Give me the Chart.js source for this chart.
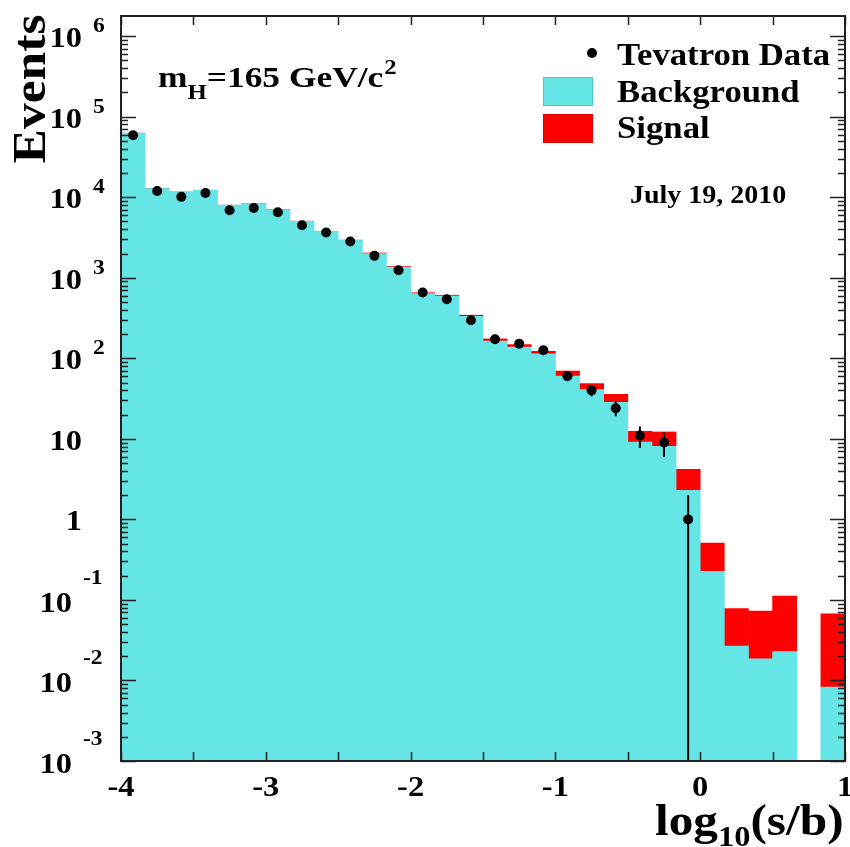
<!DOCTYPE html>
<html>
<head>
<meta charset="utf-8">
<script src="https://cdn.jsdelivr.net/npm/chart.js@4.4.0/dist/chart.umd.min.js"></script>
<style>
  html, body { margin: 0; padding: 0; background: #fff; }
  #stage { width: 850px; height: 847px; position: relative; }
</style>
</head>
<body>
<div id="stage"><canvas id="chart"></canvas></div>
<script>
// bin centres of log10(s/b), 30 bins of width 1/6 from -4 to 1
const binCenters = [-3.9167, -3.75, -3.5833, -3.4167, -3.25, -3.0833, -2.9167, -2.75, -2.5833, -2.4167,
  -2.25, -2.0833, -1.9167, -1.75, -1.5833, -1.4167, -1.25, -1.0833, -0.9167, -0.75,
  -0.5833, -0.4167, -0.25, -0.0833, 0.0833, 0.25, 0.4167, 0.5833, 0.75, 0.9167];
const background = [62400, 12800, 11600, 12200, 7960, 8360, 7030, 5030, 3700, 2920,
  2000, 1360, 637, 594, 333, 164, 138, 114, 60.3, 40.8,
  28.4, 9.12, 8.07, 2.29, 0.226, 0.0267, 0.0186, 0.0229, null, 0.00826];
const signal = [4, 5, 5, 6, 6, 7, 8, 9, 10, 12,
  30, 22, 14, 13, 10, 10, 10, 8, 9.2, 7.7,
  7.3, 3.3, 4.1, 1.89, 0.282, 0.0511, 0.054, 0.0885, null, 0.059];
const dataCounts = [58900, 11970, 10100, 11300, 6900, 7360, 6510, 4490, 3640, 2820,
  1870, 1240, 655, 541, 297, 172, 152, 126, 60, 40, 24, 11, 9, 1];
const dataErrors = [243, 109, 100, 106, 83, 86, 81, 67, 60, 53,
  43, 35, 26, 23, 17, 13, 12, 11, 7.7, 6.3, 4.9, 3.3, 3, 1];
const yExponents = [-3, -2, -1, 0, 1, 2, 3, 4, 5, 6];
const xTickMarks = [-4, -3.5, -3, -2.5, -2, -1.5, -1, -0.5, 0, 0.5, 1];
const xTickLabels = ['-4', '-3', '-2', '-1', '0', '1'];
const xLabelValues = [-4, -3, -2, -1, 0, 1];
const legendLabels = ['Tevatron Data', 'Background', 'Signal'];

const CYAN = '#65e5e5';
const RED = '#ff0000';
const SERIF = '"Liberation Serif", "Times New Roman", serif';
const STRETCH = 1.12;

function txt(ctx, str, x, y, size, align = 'left', sx = STRETCH) {
  ctx.save();
  ctx.font = `bold ${size}px ${SERIF}`;
  ctx.textAlign = 'left';
  ctx.textBaseline = 'alphabetic';
  const w = ctx.measureText(str).width * sx;
  const x0 = align === 'right' ? x - w : align === 'center' ? x - w / 2 : x;
  ctx.translate(x0, y);
  ctx.scale(sx, 1);
  ctx.fillStyle = '#000';
  ctx.fillText(str, 0, 0);
  ctx.restore();
  return w;
}

const frame = {
  id: 'frame',
  afterDatasetsDraw(chart) {
    const { ctx, chartArea: a, scales: { x, y } } = chart;
    // error bars
    ctx.save();
    ctx.strokeStyle = '#000';
    ctx.lineWidth = 2;
    dataCounts.forEach((v, i) => {
      const px = x.getPixelForValue(binCenters[i]);
      const lo = v - dataErrors[i];
      ctx.beginPath();
      ctx.moveTo(px, y.getPixelForValue(v + dataErrors[i]));
      ctx.lineTo(px, lo > y.min ? y.getPixelForValue(lo) : a.bottom);
      ctx.stroke();
    });
    ctx.restore();

    ctx.save();
    ctx.strokeStyle = '#222';
    ctx.lineWidth = 1.5;
    // y ticks, both sides
    yExponents.forEach((e) => {
      for (let m = 1; m <= 9; m++) {
        const v = m * Math.pow(10, e);
        if (v > y.max) continue;
        const py = Math.round(y.getPixelForValue(v)) + 0.5;
        const len = m === 1 ? 15 : 7;
        ctx.beginPath();
        ctx.moveTo(a.left, py); ctx.lineTo(a.left + len, py);
        ctx.moveTo(a.right, py); ctx.lineTo(a.right - len, py);
        ctx.stroke();
      }
    });
    // x ticks, top and bottom
    xTickMarks.forEach((v) => {
      const px = Math.round(x.getPixelForValue(v)) + 0.5;
      ctx.beginPath();
      ctx.moveTo(px, a.bottom); ctx.lineTo(px, a.bottom - 9);
      ctx.moveTo(px, a.top); ctx.lineTo(px, a.top + 9);
      ctx.stroke();
    });
    ctx.lineWidth = 2;
    ctx.strokeRect(a.left, a.top, a.right - a.left, a.bottom - a.top);
    ctx.restore();

    // y tick labels
    yExponents.forEach((e) => {
      const py = y.getPixelForValue(Math.pow(10, e));
      if (e === 0) {
        txt(ctx, '1', 82, py + 11, 29, 'right');
        return;
      }
      if (e === 1) {
        txt(ctx, '10', 82, py + 11, 29, 'right');
        return;
      }
      if (e > 0) {
        txt(ctx, '10', 82, py + 11, 29, 'right');
        txt(ctx, String(e), 93, py - 4, 21);
      } else {
        txt(ctx, '10', 72, py + 12, 29, 'right');
        txt(ctx, String(e), 83, py - 16, 21);
      }
    });
    // x tick labels
    xTickLabels.forEach((label, i) => {
      txt(ctx, label, x.getPixelForValue(xLabelValues[i]), 796, 29, 'center');
    });

    // axis titles
    ctx.save();
    ctx.translate(45, 89);
    ctx.rotate(-Math.PI / 2);
    txt(ctx, 'Events', 0, 0, 46, 'center');
    ctx.restore();
    let cx = 655;
    cx += txt(ctx, 'log', cx, 835, 44);
    cx += txt(ctx, '10', cx, 846, 29);
    txt(ctx, '(s/b)', cx, 835, 44);

    // mass label
    cx = 158;
    cx += txt(ctx, 'm', cx, 87, 30, 'left', 1.18);
    cx += txt(ctx, 'H', cx, 99, 21, 'left', 1.18);
    cx += txt(ctx, '=165 GeV/c', cx, 87, 30, 'left', 1.18);
    txt(ctx, '2', cx + 1, 74, 21, 'left', 1.18);

    // legend
    ctx.save();
    ctx.fillStyle = '#000';
    ctx.beginPath();
    ctx.arc(592, 53, 5, 0, Math.PI * 2);
    ctx.fill();
    ctx.fillStyle = CYAN;
    ctx.strokeStyle = '#4cc';
    ctx.lineWidth = 1;
    ctx.fillRect(543, 77, 50, 29);
    ctx.strokeRect(543.5, 77.5, 49, 28);
    ctx.fillStyle = RED;
    ctx.strokeStyle = '#d00';
    ctx.fillRect(543, 114, 50, 29);
    ctx.strokeRect(543.5, 114.5, 49, 28);
    ctx.restore();
    txt(ctx, legendLabels[0], 617, 65, 31);
    txt(ctx, legendLabels[1], 617, 102, 31);
    txt(ctx, legendLabels[2], 617, 138, 31);
    txt(ctx, 'July 19, 2010', 630, 203, 25);
  },
};

const pts = (arr) => arr.map((v, i) => ({ x: binCenters[i], y: v }));

new Chart(document.getElementById('chart'), {
  type: 'bar',
  data: {
    datasets: [
      { type: 'scatter', label: legendLabels[0], data: pts(dataCounts), stack: 'obs', order: 0,
        pointRadius: 5, pointBackgroundColor: '#000', pointBorderWidth: 0, showLine: false },
      { label: legendLabels[1], data: pts(background), stack: 'mc', order: 1,
        backgroundColor: CYAN, borderWidth: 0, barPercentage: 1, categoryPercentage: 1 },
      { label: legendLabels[2], data: pts(signal), stack: 'mc', order: 1,
        backgroundColor: RED, borderWidth: 0, barPercentage: 1, categoryPercentage: 1 },
    ],
  },
  options: {
    responsive: true,
    maintainAspectRatio: false,
    animation: false,
    events: [],
    layout: { padding: { left: 121, right: 5, top: 16, bottom: 86 } },
    plugins: { legend: { display: false }, tooltip: { enabled: false } },
    scales: {
      x: { type: 'linear', min: -4, max: 1, offset: false, display: false, stacked: true },
      y: { type: 'logarithmic', min: 1e-3, max: Math.pow(10, 6.25), display: false, stacked: true },
    },
  },
  plugins: [frame],
});
</script>
</body>
</html>
